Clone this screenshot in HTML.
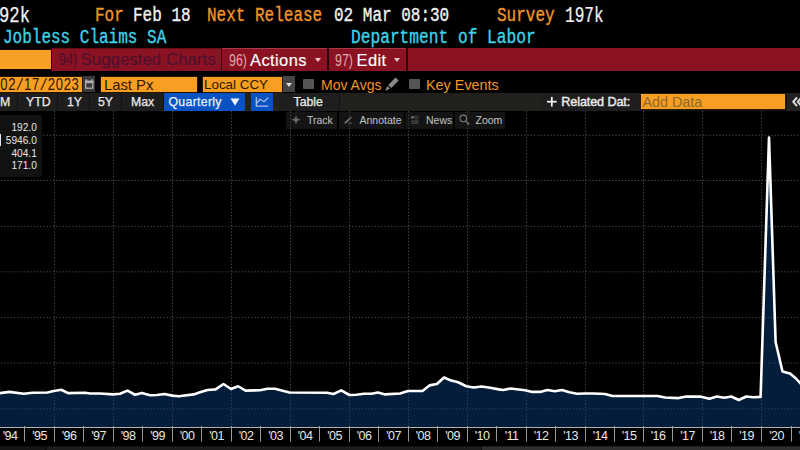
<!DOCTYPE html>
<html><head><meta charset="utf-8"><style>
html,body{margin:0;padding:0;background:#000;width:800px;height:450px;overflow:hidden;position:relative}
.a{position:absolute;white-space:nowrap}
.m{font-family:"Liberation Mono",monospace;font-size:20px;line-height:20px;transform:scaleX(0.8);transform-origin:0 0;-webkit-text-stroke:0.35px currentColor}
.s{font-family:"Liberation Sans",sans-serif}
.o{color:#f0962a} .w{color:#f2f2f2} .c{color:#3cd4e8}
.n{display:inline-block;transform:scaleX(0.75);transform-origin:0 0}
.b5{position:absolute;top:93px;height:18px;background:#1e1e1e;color:#ececec;font-family:"Liberation Sans",sans-serif;font-size:12.3px;line-height:18px;white-space:nowrap;-webkit-text-stroke:0.25px #ececec}
.b5 span,.b6 span{position:absolute;top:0}
.b6{position:absolute;top:111.6px;height:17.3px;background:rgba(24,24,24,0.85);color:#c4c4c4;font-family:"Liberation Sans",sans-serif;font-size:10.5px;line-height:17.3px;white-space:nowrap}
.ob{position:absolute;background:#f89e22;box-shadow:0 0 0 0.6px #3a2200}
</style></head><body>
<svg width="800" height="450" style="position:absolute;left:0;top:0"><defs><clipPath id="fc"><polygon points="0,393.1 9.4,391.9 23.75,393.75 32.5,392.75 47.5,392.5 53.75,391 61.25,389.75 68,393.1 85,392.75 90,393.5 100,393.5 113,394.4 120,393.75 127.5,390.6 135,394.75 141.9,392.9 150,395.25 156.9,395 164.4,394 172.5,395.6 178.75,396.25 193.75,394.4 200,392.25 207.5,390 215.6,389.4 223.5,384 231,389 238.1,386.25 245.6,390.6 260,390.25 267.5,388.75 275,388.75 289.4,392.5 326.9,392.75 333.5,394 341.25,390.4 349.4,395 356.25,394.75 363.75,393.75 371.25,393.75 378.1,392.5 385,394.4 400,393.5 408.1,391 422.5,391 429.4,385.4 436.9,384 444,377.5 451.25,380.6 458.1,382.25 466.25,386.25 473.75,387.5 481.25,386.5 488.75,387.5 498.75,389.4 503,390 510.6,388.5 525,390.25 532.5,391.9 540,391.9 547.5,390 555,391.25 561.9,390 569.4,392.25 576.9,393.75 585,393.5 592.5,393.5 600,393.75 605,394 612.5,396 657.5,396 665,397.5 678.75,398.1 686.25,396.6 700,396.5 709.4,398.75 716.9,396.5 724.4,397.75 731.25,396.5 738.75,400 746.25,396.5 753.1,397.25 760.6,396.9 769,137.5 775.6,342 782.5,371.5 790,373.5 796,378.5 800.5,383.5 806,390 805,427 -5,427 -5,393.1"/></clipPath></defs>
<line x1="1" y1="135.3" x2="800" y2="135.3" stroke="#484848" stroke-width="1" stroke-dasharray="1.3,1.95"/><line x1="1" y1="180.5" x2="800" y2="180.5" stroke="#484848" stroke-width="1" stroke-dasharray="1.3,1.95"/><line x1="1" y1="226.4" x2="800" y2="226.4" stroke="#484848" stroke-width="1" stroke-dasharray="1.3,1.95"/><line x1="1" y1="271.8" x2="800" y2="271.8" stroke="#484848" stroke-width="1" stroke-dasharray="1.3,1.95"/><line x1="1" y1="317.6" x2="800" y2="317.6" stroke="#484848" stroke-width="1" stroke-dasharray="1.3,1.95"/><line x1="1" y1="363" x2="800" y2="363" stroke="#484848" stroke-width="1" stroke-dasharray="1.3,1.95"/><line x1="1" y1="408.9" x2="800" y2="408.9" stroke="#484848" stroke-width="1" stroke-dasharray="1.3,1.95"/><line x1="54.5" y1="111" x2="54.5" y2="427" stroke="#484848" stroke-width="1" stroke-dasharray="1.3,1.95"/><line x1="113.5" y1="111" x2="113.5" y2="427" stroke="#484848" stroke-width="1" stroke-dasharray="1.3,1.95"/><line x1="172.5" y1="111" x2="172.5" y2="427" stroke="#484848" stroke-width="1" stroke-dasharray="1.3,1.95"/><line x1="231.5" y1="111" x2="231.5" y2="427" stroke="#484848" stroke-width="1" stroke-dasharray="1.3,1.95"/><line x1="290.5" y1="111" x2="290.5" y2="427" stroke="#484848" stroke-width="1" stroke-dasharray="1.3,1.95"/><line x1="349.5" y1="111" x2="349.5" y2="427" stroke="#484848" stroke-width="1" stroke-dasharray="1.3,1.95"/><line x1="408.5" y1="111" x2="408.5" y2="427" stroke="#484848" stroke-width="1" stroke-dasharray="1.3,1.95"/><line x1="467.5" y1="111" x2="467.5" y2="427" stroke="#484848" stroke-width="1" stroke-dasharray="1.3,1.95"/><line x1="526.5" y1="111" x2="526.5" y2="427" stroke="#484848" stroke-width="1" stroke-dasharray="1.3,1.95"/><line x1="585.5" y1="111" x2="585.5" y2="427" stroke="#484848" stroke-width="1" stroke-dasharray="1.3,1.95"/><line x1="643.5" y1="111" x2="643.5" y2="427" stroke="#484848" stroke-width="1" stroke-dasharray="1.3,1.95"/><line x1="702.5" y1="111" x2="702.5" y2="427" stroke="#484848" stroke-width="1" stroke-dasharray="1.3,1.95"/><line x1="761.5" y1="111" x2="761.5" y2="427" stroke="#484848" stroke-width="1" stroke-dasharray="1.3,1.95"/>
<g clip-path="url(#fc)"><rect x="0" y="100" width="800" height="330" fill="#041d3a"/><line x1="1" y1="135.3" x2="800" y2="135.3" stroke="#2c4464" stroke-width="1" stroke-dasharray="1.3,1.95"/><line x1="1" y1="180.5" x2="800" y2="180.5" stroke="#2c4464" stroke-width="1" stroke-dasharray="1.3,1.95"/><line x1="1" y1="226.4" x2="800" y2="226.4" stroke="#2c4464" stroke-width="1" stroke-dasharray="1.3,1.95"/><line x1="1" y1="271.8" x2="800" y2="271.8" stroke="#2c4464" stroke-width="1" stroke-dasharray="1.3,1.95"/><line x1="1" y1="317.6" x2="800" y2="317.6" stroke="#2c4464" stroke-width="1" stroke-dasharray="1.3,1.95"/><line x1="1" y1="363" x2="800" y2="363" stroke="#2c4464" stroke-width="1" stroke-dasharray="1.3,1.95"/><line x1="1" y1="408.9" x2="800" y2="408.9" stroke="#2c4464" stroke-width="1" stroke-dasharray="1.3,1.95"/><line x1="54.5" y1="111" x2="54.5" y2="427" stroke="#2c4464" stroke-width="1" stroke-dasharray="1.3,1.95"/><line x1="113.5" y1="111" x2="113.5" y2="427" stroke="#2c4464" stroke-width="1" stroke-dasharray="1.3,1.95"/><line x1="172.5" y1="111" x2="172.5" y2="427" stroke="#2c4464" stroke-width="1" stroke-dasharray="1.3,1.95"/><line x1="231.5" y1="111" x2="231.5" y2="427" stroke="#2c4464" stroke-width="1" stroke-dasharray="1.3,1.95"/><line x1="290.5" y1="111" x2="290.5" y2="427" stroke="#2c4464" stroke-width="1" stroke-dasharray="1.3,1.95"/><line x1="349.5" y1="111" x2="349.5" y2="427" stroke="#2c4464" stroke-width="1" stroke-dasharray="1.3,1.95"/><line x1="408.5" y1="111" x2="408.5" y2="427" stroke="#2c4464" stroke-width="1" stroke-dasharray="1.3,1.95"/><line x1="467.5" y1="111" x2="467.5" y2="427" stroke="#2c4464" stroke-width="1" stroke-dasharray="1.3,1.95"/><line x1="526.5" y1="111" x2="526.5" y2="427" stroke="#2c4464" stroke-width="1" stroke-dasharray="1.3,1.95"/><line x1="585.5" y1="111" x2="585.5" y2="427" stroke="#2c4464" stroke-width="1" stroke-dasharray="1.3,1.95"/><line x1="643.5" y1="111" x2="643.5" y2="427" stroke="#2c4464" stroke-width="1" stroke-dasharray="1.3,1.95"/><line x1="702.5" y1="111" x2="702.5" y2="427" stroke="#2c4464" stroke-width="1" stroke-dasharray="1.3,1.95"/><line x1="761.5" y1="111" x2="761.5" y2="427" stroke="#2c4464" stroke-width="1" stroke-dasharray="1.3,1.95"/></g>
<polyline points="0,393.1 9.4,391.9 23.75,393.75 32.5,392.75 47.5,392.5 53.75,391 61.25,389.75 68,393.1 85,392.75 90,393.5 100,393.5 113,394.4 120,393.75 127.5,390.6 135,394.75 141.9,392.9 150,395.25 156.9,395 164.4,394 172.5,395.6 178.75,396.25 193.75,394.4 200,392.25 207.5,390 215.6,389.4 223.5,384 231,389 238.1,386.25 245.6,390.6 260,390.25 267.5,388.75 275,388.75 289.4,392.5 326.9,392.75 333.5,394 341.25,390.4 349.4,395 356.25,394.75 363.75,393.75 371.25,393.75 378.1,392.5 385,394.4 400,393.5 408.1,391 422.5,391 429.4,385.4 436.9,384 444,377.5 451.25,380.6 458.1,382.25 466.25,386.25 473.75,387.5 481.25,386.5 488.75,387.5 498.75,389.4 503,390 510.6,388.5 525,390.25 532.5,391.9 540,391.9 547.5,390 555,391.25 561.9,390 569.4,392.25 576.9,393.75 585,393.5 592.5,393.5 600,393.75 605,394 612.5,396 657.5,396 665,397.5 678.75,398.1 686.25,396.6 700,396.5 709.4,398.75 716.9,396.5 724.4,397.75 731.25,396.5 738.75,400 746.25,396.5 753.1,397.25 760.6,396.9 769,137.5 775.6,342 782.5,371.5 790,373.5 796,378.5 800.5,383.5 806,390" fill="none" stroke="#fff" stroke-width="2.6" stroke-linejoin="round"/>
<line x1="0" y1="427.5" x2="800" y2="427.5" stroke="#b0b0b6" stroke-width="1"/>
<line x1="24.5" y1="426" x2="24.5" y2="441.5" stroke="#9a9a9a" stroke-width="1"/>
<line x1="54.5" y1="426" x2="54.5" y2="441.5" stroke="#9a9a9a" stroke-width="1"/>
<line x1="83.5" y1="426" x2="83.5" y2="441.5" stroke="#9a9a9a" stroke-width="1"/>
<line x1="113.5" y1="426" x2="113.5" y2="441.5" stroke="#9a9a9a" stroke-width="1"/>
<line x1="142.5" y1="426" x2="142.5" y2="441.5" stroke="#9a9a9a" stroke-width="1"/>
<line x1="172.5" y1="426" x2="172.5" y2="441.5" stroke="#9a9a9a" stroke-width="1"/>
<line x1="201.5" y1="426" x2="201.5" y2="441.5" stroke="#9a9a9a" stroke-width="1"/>
<line x1="231.5" y1="426" x2="231.5" y2="441.5" stroke="#9a9a9a" stroke-width="1"/>
<line x1="260.5" y1="426" x2="260.5" y2="441.5" stroke="#9a9a9a" stroke-width="1"/>
<line x1="290.5" y1="426" x2="290.5" y2="441.5" stroke="#9a9a9a" stroke-width="1"/>
<line x1="319.5" y1="426" x2="319.5" y2="441.5" stroke="#9a9a9a" stroke-width="1"/>
<line x1="349.5" y1="426" x2="349.5" y2="441.5" stroke="#9a9a9a" stroke-width="1"/>
<line x1="378.5" y1="426" x2="378.5" y2="441.5" stroke="#9a9a9a" stroke-width="1"/>
<line x1="408.5" y1="426" x2="408.5" y2="441.5" stroke="#9a9a9a" stroke-width="1"/>
<line x1="437.5" y1="426" x2="437.5" y2="441.5" stroke="#9a9a9a" stroke-width="1"/>
<line x1="467.5" y1="426" x2="467.5" y2="441.5" stroke="#9a9a9a" stroke-width="1"/>
<line x1="496.5" y1="426" x2="496.5" y2="441.5" stroke="#9a9a9a" stroke-width="1"/>
<line x1="526.5" y1="426" x2="526.5" y2="441.5" stroke="#9a9a9a" stroke-width="1"/>
<line x1="555.5" y1="426" x2="555.5" y2="441.5" stroke="#9a9a9a" stroke-width="1"/>
<line x1="585.5" y1="426" x2="585.5" y2="441.5" stroke="#9a9a9a" stroke-width="1"/>
<line x1="614.5" y1="426" x2="614.5" y2="441.5" stroke="#9a9a9a" stroke-width="1"/>
<line x1="643.5" y1="426" x2="643.5" y2="441.5" stroke="#9a9a9a" stroke-width="1"/>
<line x1="672.5" y1="426" x2="672.5" y2="441.5" stroke="#9a9a9a" stroke-width="1"/>
<line x1="702.5" y1="426" x2="702.5" y2="441.5" stroke="#9a9a9a" stroke-width="1"/>
<line x1="731.5" y1="426" x2="731.5" y2="441.5" stroke="#9a9a9a" stroke-width="1"/>
<line x1="761.5" y1="426" x2="761.5" y2="441.5" stroke="#9a9a9a" stroke-width="1"/>
<line x1="791.5" y1="426" x2="791.5" y2="441.5" stroke="#9a9a9a" stroke-width="1"/>
<g fill="#e8e8e8" font-family="Liberation Sans" font-size="12.5" letter-spacing="-0.6"><text x="10.00" y="439.7" text-anchor="middle">'94</text><text x="39.50" y="439.7" text-anchor="middle">'95</text><text x="69.00" y="439.7" text-anchor="middle">'96</text><text x="98.50" y="439.7" text-anchor="middle">'97</text><text x="128.00" y="439.7" text-anchor="middle">'98</text><text x="157.50" y="439.7" text-anchor="middle">'99</text><text x="187.00" y="439.7" text-anchor="middle">'00</text><text x="216.50" y="439.7" text-anchor="middle">'01</text><text x="246.00" y="439.7" text-anchor="middle">'02</text><text x="275.50" y="439.7" text-anchor="middle">'03</text><text x="305.00" y="439.7" text-anchor="middle">'04</text><text x="334.50" y="439.7" text-anchor="middle">'05</text><text x="364.00" y="439.7" text-anchor="middle">'06</text><text x="393.50" y="439.7" text-anchor="middle">'07</text><text x="423.00" y="439.7" text-anchor="middle">'08</text><text x="452.50" y="439.7" text-anchor="middle">'09</text><text x="482.00" y="439.7" text-anchor="middle">'10</text><text x="511.50" y="439.7" text-anchor="middle">'11</text><text x="541.00" y="439.7" text-anchor="middle">'12</text><text x="570.50" y="439.7" text-anchor="middle">'13</text><text x="600.00" y="439.7" text-anchor="middle">'14</text><text x="629.00" y="439.7" text-anchor="middle">'15</text><text x="658.00" y="439.7" text-anchor="middle">'16</text><text x="687.50" y="439.7" text-anchor="middle">'17</text><text x="717.00" y="439.7" text-anchor="middle">'18</text><text x="746.50" y="439.7" text-anchor="middle">'19</text><text x="776.50" y="439.7" text-anchor="middle">'20</text><text x="806.00" y="439.7" text-anchor="middle">'21</text></g>
<rect x="0" y="446.3" width="45.5" height="4" fill="#151515"/><rect x="46.5" y="446.3" width="435" height="4" fill="#1c1c1c"/><rect x="482" y="446.3" width="318" height="4" fill="#2e2e2e"/></svg>
<div class="a m w" style="left:-1.5px;top:6px;font-size:21.5px;transform:scaleX(0.8);-webkit-text-stroke:0.25px #f2f2f2">92k</div>
<div class="a m o" style="left:95px;top:6px">For</div>
<div class="a m w" style="left:133px;top:6px">Feb 18</div>
<div class="a m o" style="left:207px;top:6px">Next Release</div>
<div class="a m w" style="left:334px;top:6px">02 Mar 08:30</div>
<div class="a m o" style="left:497px;top:6px">Survey</div>
<div class="a m w" style="left:564.5px;top:6px;font-size:21.5px;transform:scaleX(0.75);-webkit-text-stroke:0.2px #f2f2f2">197k</div>
<div class="a m c" style="left:3px;top:28.1px">Jobless Claims SA</div>
<div class="a m c" style="left:351px;top:28.1px;transform:scaleX(0.81)">Department of Labor</div>

<!-- row 3 -->
<div class="a" style="left:0;top:49.5px;width:51px;height:19.7px;background:#f8a026;box-shadow:0 0 0 0.5px #2a1800"></div>
<div class="a" style="left:52px;top:48px;width:748px;height:22.7px;background:#8a1222"></div>
<div class="a" style="left:52px;top:48px;width:168.7px;height:1px;background:#6a0c18"></div>
<div class="a" style="left:222px;top:48px;width:105px;height:1.4px;background:#a63848"></div>
<div class="a" style="left:328.7px;top:48px;width:77.5px;height:1.4px;background:#a63848"></div>
<div class="a" style="left:220.7px;top:48px;width:1.3px;height:22.7px;background:#2a060c"></div>
<div class="a" style="left:327.2px;top:48px;width:1.5px;height:22.7px;background:#2a060c"></div>
<div class="a" style="left:406.2px;top:48px;width:1.6px;height:22.7px;background:#2a060c"></div>
<div class="a s" style="left:59px;top:49.5px;font-size:16.9px;line-height:20px;color:#4a1030"><span class="n" style="width:21.5px">94)</span>Suggested Charts</div>
<div class="a s" style="left:228.5px;top:49.5px;font-size:16.5px;line-height:20px;color:#fff;letter-spacing:0.4px;-webkit-text-stroke:0.15px #fff"><span class="n" style="width:21.5px;color:#e0a8b0;letter-spacing:0;-webkit-text-stroke:0">96)</span>Actions</div>
<div class="a s" style="left:335px;top:49.5px;font-size:16.5px;line-height:20px;color:#fff;letter-spacing:0.4px;-webkit-text-stroke:0.15px #fff"><span class="n" style="width:21.5px;color:#e0a8b0;letter-spacing:0;-webkit-text-stroke:0">97)</span>Edit</div>
<div class="a" style="left:315px;top:58px;width:0;height:0;border-left:3.0px solid transparent;border-right:3.0px solid transparent;border-top:4px solid #e8c8cc"></div>
<div class="a" style="left:393.5px;top:58px;width:0;height:0;border-left:3.0px solid transparent;border-right:3.0px solid transparent;border-top:4px solid #e8c8cc"></div>

<!-- row 4 -->
<div class="ob" style="left:0;top:76.6px;width:82.2px;height:15px"></div>
<div class="a s" style="left:0.3px;top:77.3px;font-size:16.3px;line-height:15px;color:#2a1800;transform:scaleX(0.8);transform-origin:0 0"><span style="display:inline-block;width:9.9px;text-align:center">0</span><span style="display:inline-block;width:9.9px;text-align:center">2</span><span style="display:inline-block;width:9.9px;text-align:center;font-family:Liberation Mono;font-size:17px">/</span><span style="display:inline-block;width:9.9px;text-align:center">1</span><span style="display:inline-block;width:9.9px;text-align:center">7</span><span style="display:inline-block;width:9.9px;text-align:center;font-family:Liberation Mono;font-size:17px">/</span><span style="display:inline-block;width:9.9px;text-align:center">2</span><span style="display:inline-block;width:9.9px;text-align:center">0</span><span style="display:inline-block;width:9.9px;text-align:center">2</span><span style="display:inline-block;width:9.9px;text-align:center">3</span></div>
<div class="a" style="left:83px;top:76.4px;width:12.3px;height:15.4px;background:#3a3a3a"></div>
<div class="ob" style="left:101px;top:76.6px;width:96px;height:15px"></div>
<div class="a s" style="left:104px;top:76.5px;font-size:14.8px;line-height:16px;color:#2a1800">Last Px</div>
<div class="ob" style="left:202.5px;top:76.6px;width:79.5px;height:15px"></div>
<div class="a s" style="left:204px;top:76.5px;font-size:13.4px;line-height:16px;color:#2a1800">Local CCY</div>
<div class="a" style="left:282.7px;top:76.4px;width:12px;height:15.4px;background:#444"></div>
<div class="a" style="left:286px;top:82.5px;width:0;height:0;border-left:3.0px solid transparent;border-right:3.0px solid transparent;border-top:4px solid #ddd"></div>
<div class="a" style="left:303.2px;top:78.7px;width:11.3px;height:10.8px;background:#555;border-radius:1px"></div>
<div class="a s o" style="left:321px;top:76.5px;font-size:14px;line-height:16px">Mov Avgs</div>
<div class="a" style="left:408.7px;top:78.7px;width:11.1px;height:10.8px;background:#555;border-radius:1px"></div>
<div class="a s o" style="left:426px;top:76.5px;font-size:14.4px;line-height:16px">Key Events</div>

<!-- row 5 -->
<div class="a" style="left:0;top:93px;width:800px;height:18px;background:#121212"></div><div class="a" style="left:340px;top:93px;width:201px;height:18px;background:#22201c"></div><div class="a" style="left:245px;top:93px;width:5.5px;height:18px;background:#25221c"></div><div class="a" style="left:273px;top:93px;width:6px;height:18px;background:#25221c"></div>
<div class="b5" style="left:0;width:17px"><span style="left:0">M</span></div>
<div class="b5" style="left:18px;width:39px"><span style="left:8px">YTD</span></div>
<div class="b5" style="left:58px;width:31px"><span style="left:9px">1Y</span></div>
<div class="b5" style="left:89.5px;width:31px"><span style="left:8.5px">5Y</span></div>
<div class="b5" style="left:121.5px;width:41.5px"><span style="left:9.5px">Max</span></div>
<div class="b5" style="left:163.5px;width:81.5px;background:#0852c4;color:#eef2fc"><span style="left:5px;letter-spacing:0.3px">Quarterly</span></div>
<div class="b5" style="left:250.5px;width:22.5px;background:#0852c4"></div>
<div class="b5" style="left:279px;width:60px"><span style="left:14.5px">Table</span></div>
<div class="b5" style="left:541.3px;width:99px;-webkit-text-stroke:0.4px #f0f0f0;font-size:12.6px"><span style="left:20px;width:70.5px;overflow:hidden;letter-spacing:-0.1px">Related Dat:</span></div>
<div class="ob" style="left:641px;top:94.2px;width:144.3px;height:15px"></div>
<div class="a s" style="left:642.5px;top:93.5px;font-size:14.3px;line-height:17px;color:#8a6a2a">Add Data</div>
<div class="b5" style="left:787.2px;width:13px;background:#222"></div>

<!-- row 6 -->
<div class="b6" style="left:286px;width:51px"><span style="left:21px">Track</span></div>
<div class="b6" style="left:338.5px;width:65px"><span style="left:21px">Annotate</span></div>
<div class="b6" style="left:405px;width:48px"><span style="left:21px">News</span></div>
<div class="b6" style="left:455px;width:49.5px"><span style="left:20.5px">Zoom</span></div>

<!-- legend -->
<div class="a" style="left:0;top:114.7px;width:42px;height:62.8px;background:#121212;border-radius:0 3px 3px 0"></div>
<div class="a s" style="left:0;top:121.2px;width:36.8px;text-align:right;font-size:11.5px;line-height:12.75px;color:#e8e8e8;transform:scaleX(0.88);transform-origin:36.8px 0">192.0<br>5946.0<br>404.1<br>171.0</div>
<div class="a" style="left:0;top:134px;width:1.3px;height:12px;background:#e4e4e4"></div>
<svg width="800" height="450" style="position:absolute;left:0;top:0"><rect x="85.6" y="81.4" width="7.2" height="6.8" fill="none" stroke="#b0b0b0" stroke-width="1.3"/><rect x="85" y="80.8" width="8.4" height="2.4" fill="#b0b0b0"/><rect x="85.6" y="79.3" width="1.5" height="2" fill="#b0b0b0"/><rect x="91.3" y="79.3" width="1.5" height="2" fill="#b0b0b0"/><polygon points="395.6,77.6 398.6,80.6 391.2,88 388.2,85" fill="#8a8a8a"/><polygon points="387.4,86 390,88.6 385,91" fill="#8a8a8a"/><polyline points="256.3,97 256.3,106.2 268.3,106.2" fill="none" stroke="#a8c0ec" stroke-width="1.3"/><polyline points="256.5,103.2 260,99.3 264,101.8 268.3,97.6" fill="none" stroke="#a8c0ec" stroke-width="1.3"/><polygon points="230.5,98.5 239.5,98.5 235,105.8" fill="#f0f4ff"/><polygon points="296,115.3 297.3,118.5 300.7,119.8 297.3,121.1 296,124.4 294.7,121.1 291.3,119.8 294.7,118.5" fill="#6a6a6a"/><line x1="345.2" y1="122.8" x2="350.8" y2="117.6" stroke="#7a7a7a" stroke-width="1.6" stroke-linecap="round"/><line x1="348.2" y1="123.2" x2="352" y2="123.2" stroke="#5a5a5a" stroke-width="1"/><rect x="411" y="116" width="3.4" height="2.6" fill="#5e5e5e"/><rect x="415" y="116.3" width="3.4" height="1" fill="#555"/><rect x="415" y="118.3" width="3.4" height="1" fill="#4a4a4a"/><rect x="411" y="120.6" width="7.4" height="1.1" fill="#555"/><rect x="411" y="122.6" width="7.4" height="1.1" fill="#555"/><circle cx="463.3" cy="118.4" r="3.3" fill="none" stroke="#7a7a7a" stroke-width="1.1"/><line x1="466.2" y1="121.3" x2="469" y2="124.3" stroke="#7a7a7a" stroke-width="1.8"/><polyline points="797,97.5 793.3,101.8 797,106.2" fill="none" stroke="#dcdcdc" stroke-width="2"/><polyline points="801.5,97.5 797.8,101.8 801.5,106.2" fill="none" stroke="#dcdcdc" stroke-width="2"/><rect x="547" y="100.8" width="9.6" height="1.8" fill="#f0f0f0"/><rect x="550.9" y="96.9" width="1.8" height="9.6" fill="#f0f0f0"/><line x1="290.5" y1="111.5" x2="290.5" y2="129" stroke="#3a3a3a" stroke-width="1" stroke-dasharray="1.3,1.95"/><line x1="349.5" y1="111.5" x2="349.5" y2="129" stroke="#3a3a3a" stroke-width="1" stroke-dasharray="1.3,1.95"/><line x1="408.5" y1="111.5" x2="408.5" y2="129" stroke="#3a3a3a" stroke-width="1" stroke-dasharray="1.3,1.95"/><line x1="467.5" y1="111.5" x2="467.5" y2="129" stroke="#3a3a3a" stroke-width="1" stroke-dasharray="1.3,1.95"/></svg>
</body></html>
